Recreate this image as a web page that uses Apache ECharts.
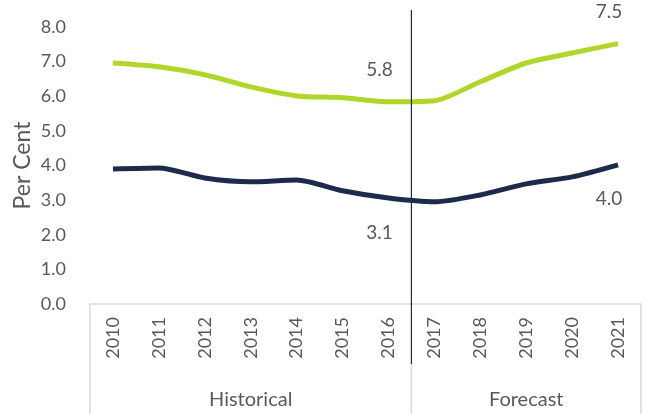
<!DOCTYPE html>
<html>
<head>
<meta charset="utf-8">
<script src="https://cdn.jsdelivr.net/npm/echarts@6/dist/echarts.min.js"></script>
<style>
  html, body { margin: 0; padding: 0; background: #fff; }
  #chart { width: 647px; height: 414px; }
</style>
</head>
<body>
<div id="chart"></div>
<script>
// years on the x axis
const years = ['2010', '2011', '2012', '2013', '2014', '2015', '2016', '2017', '2018', '2019', '2020', '2021']
// upper (green) and lower (navy) series, per cent
const greenValues = [6.96, 6.85, 6.62, 6.27, 6.01, 5.96, 5.84, 5.87, 6.42, 6.96, 7.25, 7.52]
const navyValues = [3.90, 3.93, 3.64, 3.53, 3.58, 3.27, 3.06, 2.95, 3.15, 3.47, 3.67, 4.02]
// which points get a value label
const labelledIdx = [6, 11]
// bottom group row: name and how many years it covers
const groupNames = ['Historical', 'Forecast']
const groupSizes = [7, 5]

const font = 'Lato, "Open Sans", sans-serif'
const textColor = '#595959'
const boxColor = '#d9d9d9'

const chart = echarts.init(document.getElementById('chart'))

// 给指定点加数值标签
function withLabels(values, position) {
  return values.map((v, i) => {
    if (!labelledIdx.includes(i)) return v
    return {
      value: v,
      label: {
        show: true,
        position: position,
        distance: position === 'top' ? 22 : 25,
        offset: [-9, 0],
        formatter: p => p.value.toFixed(1),
        color: textColor,
        fontSize: 19,
        fontFamily: font
      }
    }
  })
}

chart.setOption({
  animation: false,
  grid: { left: 90, right: 6, top: 27, bottom: 110 },
  xAxis: {
    type: 'category',
    data: years,
    boundaryGap: true,
    axisLine: { lineStyle: { color: boxColor, width: 1.5 } },
    axisTick: { show: false },
    axisLabel: { rotate: 90, color: textColor, fontSize: 18, fontFamily: font, margin: 13 }
  },
  yAxis: {
    type: 'value',
    min: 0,
    max: 8,
    interval: 1,
    name: 'Per Cent',
    nameLocation: 'middle',
    nameGap: 56,
    nameMoveOverlap: false,
    nameTextStyle: { color: textColor, fontSize: 23, fontFamily: font },
    splitLine: { show: false },
    axisLine: { show: false },
    axisTick: { show: false },
    axisLabel: { color: textColor, fontSize: 18, fontFamily: font, margin: 24, formatter: v => v.toFixed(1) }
  },
  series: [
    {
      type: 'line',
      data: withLabels(greenValues, 'top'),
      smooth: 0.25,
      showSymbol: true,
      symbolSize: 0,
      lineStyle: { color: '#b1d62a', width: 5 },
      itemStyle: { color: '#b1d62a' }
    },
    {
      type: 'line',
      data: withLabels(navyValues, 'bottom'),
      smooth: 0.25,
      showSymbol: true,
      symbolSize: 0,
      lineStyle: { color: '#1c2b4b', width: 5 },
      itemStyle: { color: '#1c2b4b' }
    }
  ]
})

// 画多级坐标轴框线和分组文字
function drawGroups() {
  const rect = chart.getModel().getComponent('grid').coordinateSystem.getRect()
  const step = rect.width / years.length
  const top = rect.y + rect.height
  const bottom = 414
  const rowY = top + 60
  const elements = [
    { type: 'line', shape: { x1: rect.x, y1: top, x2: rect.x, y2: bottom }, style: { stroke: boxColor, lineWidth: 1.5 } },
    { type: 'line', shape: { x1: rect.x + rect.width, y1: top, x2: rect.x + rect.width, y2: bottom }, style: { stroke: boxColor, lineWidth: 1.5 } }
  ]
  let start = 0
  groupNames.forEach((name, g) => {
    const x0 = rect.x + start * step
    const x1 = rect.x + (start + groupSizes[g]) * step
    elements.push({
      type: 'text',
      style: { text: name, x: (x0 + x1) / 2, y: bottom - 14, align: 'center', verticalAlign: 'middle', fill: textColor, fontSize: 20, fontFamily: font }
    })
    if (g > 0) {
      elements.push({ type: 'line', shape: { x1: x0, y1: rowY, x2: x0, y2: bottom }, style: { stroke: boxColor, lineWidth: 1.5 } })
      elements.push({ type: 'line', z: 10, shape: { x1: x0, y1: rect.y - 17, x2: x0, y2: rowY }, style: { stroke: '#1c2b4b', lineWidth: 1.2 } })
    }
    start += groupSizes[g]
  })
  chart.setOption({ graphic: elements })
}
drawGroups()
</script>
</body>
</html>
